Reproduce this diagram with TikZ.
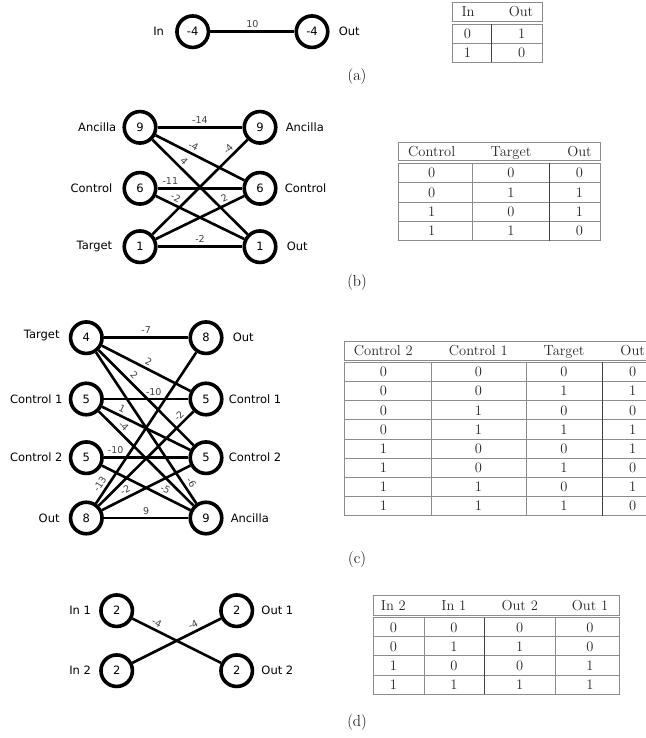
\documentclass[tikz,border=0pt]{standalone}
\usepackage{fontspec}
\newfontfamily\vertexfont{DejaVu Sans}
\usetikzlibrary{positioning}

\tikzset{
  vertex/.style={circle, draw, fill=white, line width=3.6pt, minimum size=31.5pt, inner sep=0pt,
    font=\vertexfont\fontsize{11.5}{12}\selectfont},
  vlabel/.style={inner sep=2pt, font=\vertexfont\fontsize{11.5}{12}\selectfont},
  link/.style={line width=2.6pt},
  wt/.style={inner sep=2.5pt, text=black!75, font=\vertexfont\fontsize{9.5}{10}\selectfont},
  rule/.style={draw=black!45, line width=0.8pt},
  divider/.style={draw=black!75, line width=0.9pt},
  entry/.style={anchor=base, yshift=-4.9pt, inner sep=0pt, text=black!85, font=\fontsize{14.5}{16}\selectfont},
  subcap/.style={font=\fontsize{16}{18}\selectfont}
}

\begin{document}
\begin{tikzpicture}[x=1pt, y=-1pt]
\useasboundingbox (0,0) rectangle (645,738);

% (a) inverter
\node[vertex] (inA) at (192.7,31.7) {-4};
\node[vertex] (outA) at (312,31.7) {-4};
\node[vlabel] (inAlbl) [left=9pt of inA] {In};
\node[vlabel] (outAlbl) [right=7pt of outA] {Out};
\draw[link] (inA) -- node[wt, above] {10} (outA);

% table (a)
\draw[rule] (452.7,2.7) rectangle (542.3,21.3);
\draw[rule] (452.7,24) rectangle (542.3,62.3);
\draw[rule] (452.7,43.2) -- (542.3,43.2);
\draw[divider] (491,24) -- (491,62.3);
\node[entry] (tAh1) at (468,12) {In};
\node[entry] (tAh2) at (521,12) {Out};
\foreach \a/\b [count=\r] in {0/1, 1/0} {
  \node[entry] (tA\r x) at (467.3,{24+19.15*(\r-0.5)}) {\a};
  \node[entry] (tA\r y) at (521.7,{24+19.15*(\r-0.5)}) {\b};
}
\node[subcap] (capA) at (357,77) {(a)};

% (b) XOR
\node[vertex] (ancL) at (140,127.3) {9};
\node[vertex] (conL) at (140,188.3) {6};
\node[vertex] (tarL) at (140,246.7) {1};
\node[vertex] (ancR) at (260,127.3) {9};
\node[vertex] (conR) at (260,188.3) {6};
\node[vertex] (outR) at (260,246.7) {1};
\node[vlabel] (ancLlbl) [left=4pt of ancL] {Ancilla};
\node[vlabel] (conLlbl) [left=8pt of conL] {Control};
\node[vlabel] (tarLlbl) [left=8pt of tarL] {Target};
\node[vlabel] (ancRlbl) [right=6pt of ancR] {Ancilla};
\node[vlabel] (conRlbl) [right=5pt of conR] {Control};
\node[vlabel] (outRlbl) [right=7pt of outR] {Out};
% couplings
\draw[link] (ancL) -- node[wt, above] {-14} (ancR);
\draw[link] (ancL) -- node[wt, sloped, above, pos=.39] {-4} (conR);
\draw[link] (ancL) -- node[wt, sloped, above, pos=.28] {4} (outR);
\draw[link] (conL) -- node[wt, above, pos=.15] {-11} (conR);
\draw[link] (conL) -- node[wt, sloped, above, pos=.19] {-2} (outR);
\draw[link] (tarL) -- node[wt, sloped, above, pos=.85] {-4} (ancR);
\draw[link] (tarL) -- node[wt, sloped, above, pos=.81] {2} (conR);
\draw[link] (tarL) -- node[wt, above] {-2} (outR);

% table (b)
\draw[rule] (398.3,142.3) rectangle (600.7,160.7);
\draw[rule] (398.3,163.3) rectangle (600.7,240.7);
\foreach \r in {1,2,3}
  \draw[rule] (398.3,{163.3+19.35*\r}) -- (600.7,{163.3+19.35*\r});
\draw[rule] (472.7,163.3) -- (472.7,240.7);
\draw[divider] (549.3,163.3) -- (549.3,240.7);
\node[entry] (tBh1) at (431.7,151.5) {Control};
\node[entry] (tBh2) at (511,151.5) {Target};
\node[entry] (tBh3) at (579.5,151.5) {Out};
\foreach \a/\b/\c [count=\r] in {0/0/0, 0/1/1, 1/0/1, 1/1/0} {
  \node[entry] (tB\r x) at (431.7,{163.3+19.35*(\r-0.5)}) {\a};
  \node[entry] (tB\r y) at (511,{163.3+19.35*(\r-0.5)}) {\b};
  \node[entry] (tB\r z) at (579.5,{163.3+19.35*(\r-0.5)}) {\c};
}
\node[subcap] (capB) at (357,283) {(b)};

% (c) Toffoli
\node[vertex] (tarC) at (86.3,337.7) {4};
\node[vertex] (c1C) at (86.3,399) {5};
\node[vertex] (c2C) at (86.3,457.7) {5};
\node[vertex] (outC) at (86.3,518) {8};
\node[vertex] (outCR) at (206,337.7) {8};
\node[vertex] (c1CR) at (206,399) {5};
\node[vertex] (c2CR) at (206,457.7) {5};
\node[vertex] (ancCR) at (206,518) {9};
\node[vlabel] (tarClbl) [left=7pt of tarC, yshift=2pt] {Target};
\node[vlabel] (c1Clbl) [left=4pt of c1C] {Control 1};
\node[vlabel] (c2Clbl) [left=4pt of c2C] {Control 2};
\node[vlabel] (outClbl) [left=7pt of outC] {Out};
\node[vlabel] (outCRlbl) [right=7pt of outCR] {Out};
\node[vlabel] (c1CRlbl) [right=3pt of c1CR] {Control 1};
\node[vlabel] (c2CRlbl) [right=3pt of c2CR] {Control 2};
\node[vlabel] (ancCRlbl) [right=5pt of ancCR] {Ancilla};
% couplings
\draw[link] (tarC) -- node[wt, above] {-7} (outCR);
\draw[link] (tarC) -- node[wt, sloped, above, pos=.49] {2} (c1CR);
\draw[link] (tarC) -- node[wt, sloped, above, pos=.32] {2} (c2CR);
\draw[link] (tarC) -- node[wt, sloped, above, pos=.89] {-6} (ancCR);
\draw[link] (c1C) -- node[wt, above, pos=.59] {-10} (c1CR);
\draw[link] (c1C) -- node[wt, sloped, above, pos=.19] {1} (c2CR);
\draw[link] (c1C) -- node[wt, sloped, above, pos=.21] {-4} (ancCR);
\draw[link] (c2C) -- node[wt, above, pos=.14] {-10} (c2CR);
\draw[link] (c2C) -- node[wt, sloped, above, pos=.68] {-5} (ancCR);
\draw[link] (outC) -- node[wt, sloped, above, pos=.10] {-13} (outCR);
\draw[link] (outC) -- node[wt, sloped, above, pos=.90] {-2} (c1CR);
\draw[link] (outC) -- node[wt, sloped, above, pos=.30] {-2} (c2CR);
\draw[link] (outC) -- node[wt, above] {9} (ancCR);

% table (c)
\draw[rule] (344.3,341) rectangle (657,360);
\draw[rule] (344.3,362.3) rectangle (657,515.7);
\foreach \r in {1,...,7}
  \draw[rule] (344.3,{362.3+19.17*\r}) -- (657,{362.3+19.17*\r});
\draw[rule] (431.7,362.3) -- (431.7,515.7);
\draw[rule] (526.7,362.3) -- (526.7,515.7);
\draw[divider] (602.7,362.3) -- (602.7,515.7);
\node[entry] (tCh1) at (383.3,350.5) {Control 2};
\node[entry] (tCh2) at (478.3,350.5) {Control 1};
\node[entry] (tCh3) at (564,350.5) {Target};
\node[entry] (tCh4) at (632.7,350.5) {Out};
\foreach \a/\b/\c/\d [count=\r] in {0/0/0/0, 0/0/1/1, 0/1/0/0, 0/1/1/1,
                                    1/0/0/1, 1/0/1/0, 1/1/0/1, 1/1/1/0} {
  \node[entry] (tC\r w) at (383.3,{362.3+19.17*(\r-0.5)}) {\a};
  \node[entry] (tC\r x) at (478.3,{362.3+19.17*(\r-0.5)}) {\b};
  \node[entry] (tC\r y) at (564,{362.3+19.17*(\r-0.5)}) {\c};
  \node[entry] (tC\r z) at (632.7,{362.3+19.17*(\r-0.5)}) {\d};
}
\node[subcap] (capC) at (357,560) {(c)};

% (d) swap
\node[vertex] (in1) at (116.7,610.7) {2};
\node[vertex] (in2) at (116.7,670.7) {2};
\node[vertex] (out1) at (236.7,610.7) {2};
\node[vertex] (out2) at (236.7,670.7) {2};
\node[vlabel] (in1lbl) [left=6pt of in1] {In 1};
\node[vlabel] (in2lbl) [left=6pt of in2] {In 2};
\node[vlabel] (out1lbl) [right=5pt of out1] {Out 1};
\node[vlabel] (out2lbl) [right=5pt of out2] {Out 2};
% couplings
\draw[link] (in1) -- node[wt, sloped, above, pos=.24] {-4} (out2);
\draw[link] (in2) -- node[wt, sloped, above, pos=.72] {-4} (out1);

% table (d)
\draw[rule] (373.3,595.7) rectangle (619,615);
\draw[rule] (373.3,617.7) rectangle (619,694);
\foreach \r in {1,2,3}
  \draw[rule] (373.3,{617.7+19.08*\r}) -- (619,{617.7+19.08*\r});
\draw[rule] (424.3,617.7) -- (424.3,694);
\draw[divider] (484,617.7) -- (484,694);
\draw[rule] (555.7,617.7) -- (555.7,694);
\node[entry] (tDh1) at (393.3,605.3) {In 2};
\node[entry] (tDh2) at (453.8,605.3) {In 1};
\node[entry] (tDh3) at (519.7,605.3) {Out 2};
\node[entry] (tDh4) at (590,605.3) {Out 1};
\foreach \a/\b/\c/\d [count=\r] in {0/0/0/0, 0/1/1/0, 1/0/0/1, 1/1/1/1} {
  \node[entry] (tD\r w) at (393.3,{617.7+19.08*(\r-0.5)}) {\a};
  \node[entry] (tD\r x) at (453.8,{617.7+19.08*(\r-0.5)}) {\b};
  \node[entry] (tD\r y) at (519.7,{617.7+19.08*(\r-0.5)}) {\c};
  \node[entry] (tD\r z) at (590,{617.7+19.08*(\r-0.5)}) {\d};
}
\node[subcap] (capD) at (357,722) {(d)};
\end{tikzpicture}
\end{document}
